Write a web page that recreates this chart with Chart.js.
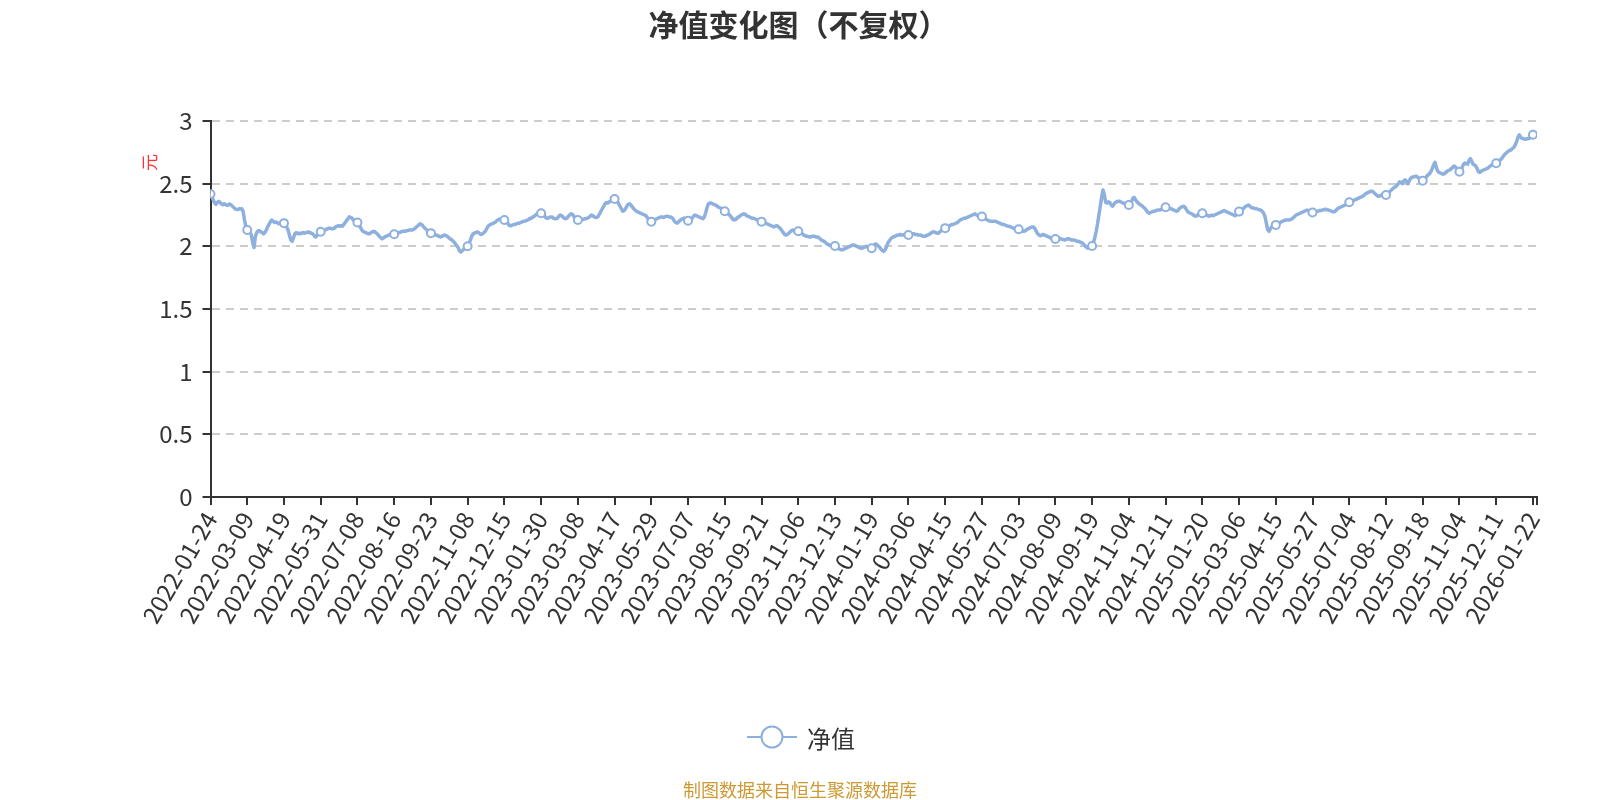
<!DOCTYPE html>
<html>
<head>
<meta charset="utf-8">
<script src="https://cdn.jsdelivr.net/npm/chart.js@4.4.1/dist/chart.umd.min.js"></script>
<style>
  html, body { margin: 0; padding: 0; background: #fff; }
  #wrap { position: relative; width: 1600px; height: 800px; font-family: "Noto Sans CJK SC", "Noto Sans", sans-serif; }
  #chart { position: absolute; left: 0; top: 0; }
  .title { position: absolute; left: 0; width: 1597px; top: 5px; text-align: center; font-size: 30px; font-weight: bold; color: #333; line-height: 36px; }
  .unit { position: absolute; left: 140px; top: 153px; width: 18px; height: 18px; font-size: 17px; line-height: 18px; color: #f33; transform: rotate(-90deg); }
  .legend { position: absolute; left: 746px; top: 721px; height: 32px; display: flex; align-items: center; font-size: 24px; color: #333; }
  .legend svg { margin-right: 9px; }
  .source { position: absolute; left: 0; width: 1600px; top: 778px; text-align: center; font-size: 18px; line-height: 22px; color: #cc9933; }
</style>
</head>
<body>
<div id="wrap">
  <canvas id="chart" width="1600" height="800"></canvas>
  <div class="title">净值变化图（不复权）</div>
  <div class="unit">元</div>
  <div class="legend">
    <svg width="52" height="26"><line x1="1" y1="13" x2="51" y2="13" stroke="#8eb0de" stroke-width="2"/><circle cx="26" cy="13" r="10.5" fill="#fff" stroke="#8eb0de" stroke-width="2"/></svg>
    <span>净值</span>
  </div>
  <div class="source">制图数据来自恒生聚源数据库</div>
</div>
<script>
// x-axis labels, one every labelStep trading days
const labelStep = 27
const tickLabels = [
  "2022-01-24", "2022-03-09", "2022-04-19", "2022-05-31", "2022-07-08", "2022-08-16", "2022-09-23", "2022-11-08", "2022-12-15",
  "2023-01-30", "2023-03-08", "2023-04-17", "2023-05-29", "2023-07-07", "2023-08-15", "2023-09-21", "2023-11-06", "2023-12-13",
  "2024-01-19", "2024-03-06", "2024-04-15", "2024-05-27", "2024-07-03", "2024-08-09", "2024-09-19", "2024-11-04", "2024-12-11",
  "2025-01-20", "2025-03-06", "2025-04-15", "2025-05-27", "2025-07-04", "2025-08-12", "2025-09-18", "2025-11-04", "2025-12-11",
  "2026-01-22"
]
const yTicks = [0, 0.5, 1, 1.5, 2, 2.5, 3]

// daily NAV (元)
const navPart1 = [
  2.418, 2.396, 2.37, 2.348, 2.335, 2.351, 2.359, 2.351, 2.338, 2.332, 2.34, 2.335, 2.327, 2.33, 2.338, 2.332, 2.322, 2.311, 2.30, 2.295, 2.293, 2.30, 2.298, 2.30, 2.277, 2.21, 2.157, 2.13,
  2.125, 2.115, 2.09, 2.03, 1.99, 2.08, 2.11, 2.125, 2.125, 2.115, 2.11, 2.10, 2.11, 2.13, 2.155, 2.175, 2.195, 2.21, 2.20, 2.19, 2.195, 2.19, 2.18, 2.185, 2.19, 2.185, 2.185,
  2.17, 2.155, 2.13, 2.09, 2.05, 2.04, 2.07, 2.10, 2.11, 2.10, 2.105, 2.10, 2.105, 2.11, 2.105, 2.11, 2.11, 2.115, 2.11, 2.105, 2.10, 2.09, 2.075, 2.08, 2.095, 2.11, 2.117,
  2.12, 2.125, 2.13, 2.135, 2.14, 2.145, 2.145, 2.14, 2.14, 2.145, 2.155, 2.16, 2.165, 2.16, 2.165, 2.16, 2.175, 2.19, 2.205, 2.22, 2.235, 2.23, 2.225, 2.21, 2.20, 2.195, 2.19,
  2.175, 2.155, 2.135, 2.12, 2.115, 2.11, 2.105, 2.10, 2.10, 2.11, 2.115, 2.12, 2.115, 2.105, 2.095, 2.08, 2.07, 2.06, 2.065, 2.075, 2.08, 2.085, 2.09, 2.095, 2.09, 2.09, 2.097,
  2.10, 2.105, 2.11, 2.11, 2.115, 2.12, 2.12, 2.12, 2.125, 2.125, 2.13, 2.13, 2.13, 2.135, 2.14, 2.15, 2.16, 2.17, 2.18, 2.175, 2.165, 2.15, 2.14, 2.13, 2.12, 2.11, 2.105,
  2.10, 2.095, 2.09, 2.09, 2.085, 2.08, 2.075, 2.08, 2.085, 2.09, 2.085, 2.08, 2.07, 2.06, 2.055, 2.045, 2.035, 2.02, 2.005, 1.99, 1.965, 1.955, 1.965, 1.975, 1.985, 1.99, 2.0,
  2.02, 2.05, 2.08, 2.10, 2.105, 2.11, 2.115, 2.11, 2.10, 2.095, 2.10, 2.11, 2.12, 2.14, 2.16, 2.17, 2.175, 2.18, 2.185, 2.19, 2.20, 2.21, 2.215, 2.22, 2.22, 2.215, 2.21,
  2.205, 2.19, 2.175, 2.165, 2.165, 2.17, 2.175, 2.175, 2.18, 2.185, 2.185, 2.19, 2.195, 2.20, 2.20, 2.205, 2.21, 2.215, 2.225, 2.225, 2.235, 2.24, 2.25, 2.26, 2.265, 2.27, 2.264
]
const navPart2 = [
  2.255, 2.245, 2.235, 2.225, 2.225, 2.23, 2.235, 2.235, 2.225, 2.22, 2.22, 2.225, 2.24, 2.25, 2.245, 2.235, 2.225, 2.22, 2.225, 2.24, 2.25, 2.26, 2.255, 2.24, 2.225, 2.215, 2.21,
  2.21, 2.21, 2.215, 2.215, 2.22, 2.22, 2.225, 2.23, 2.24, 2.25, 2.245, 2.235, 2.23, 2.23, 2.24, 2.26, 2.28, 2.30, 2.32, 2.34, 2.35, 2.345, 2.355, 2.36, 2.365, 2.37, 2.378,
  2.37, 2.36, 2.34, 2.32, 2.30, 2.28, 2.285, 2.30, 2.32, 2.335, 2.34, 2.33, 2.315, 2.30, 2.29, 2.28, 2.275, 2.27, 2.265, 2.26, 2.255, 2.25, 2.245, 2.23, 2.215, 2.20, 2.197,
  2.20, 2.205, 2.215, 2.22, 2.225, 2.23, 2.235, 2.235, 2.23, 2.235, 2.24, 2.24, 2.235, 2.235, 2.23, 2.22, 2.20, 2.19, 2.185, 2.195, 2.205, 2.215, 2.22, 2.225, 2.215, 2.21, 2.205,
  2.205, 2.21, 2.225, 2.24, 2.25, 2.245, 2.24, 2.235, 2.23, 2.225, 2.22, 2.235, 2.27, 2.31, 2.34, 2.345, 2.345, 2.34, 2.335, 2.33, 2.325, 2.315, 2.31, 2.305, 2.295, 2.285, 2.28,
  2.275, 2.265, 2.255, 2.245, 2.23, 2.215, 2.21, 2.215, 2.225, 2.235, 2.24, 2.25, 2.255, 2.26, 2.255, 2.245, 2.24, 2.235, 2.23, 2.225, 2.225, 2.22, 2.215, 2.21, 2.205, 2.20, 2.197,
  2.195, 2.19, 2.185, 2.18, 2.175, 2.17, 2.165, 2.16, 2.155, 2.16, 2.165, 2.16, 2.15, 2.14, 2.125, 2.11, 2.095, 2.09, 2.095, 2.105, 2.115, 2.125, 2.13, 2.125, 2.115, 2.115, 2.12,
  2.115, 2.11, 2.10, 2.09, 2.085, 2.08, 2.08, 2.075, 2.075, 2.08, 2.08, 2.08, 2.075, 2.075, 2.07, 2.06, 2.05, 2.045, 2.04, 2.03, 2.02, 2.015, 2.01, 2.005, 2.0, 1.995, 2.003,
  1.995, 1.985, 1.98, 1.975, 1.972, 1.975, 1.98, 1.985, 1.99, 1.995, 2.0, 2.005, 2.01, 2.01, 2.005, 2.0, 1.995, 1.99, 1.985, 1.985, 1.99, 1.995, 2.0, 1.995, 1.99, 1.985, 1.985
]
const navPart3 = [
  2.0, 2.01, 2.02, 2.01, 2.0, 1.99, 1.975, 1.965, 1.96, 1.975, 2.0, 2.03, 2.045, 2.06, 2.07, 2.075, 2.08, 2.085, 2.09, 2.09, 2.095, 2.09, 2.09, 2.095, 2.095, 2.09, 2.091,
  2.095, 2.10, 2.10, 2.10, 2.095, 2.095, 2.09, 2.09, 2.09, 2.085, 2.08, 2.08, 2.085, 2.09, 2.095, 2.10, 2.11, 2.115, 2.115, 2.11, 2.105, 2.105, 2.115, 2.125, 2.135, 2.14, 2.145,
  2.145, 2.15, 2.16, 2.17, 2.175, 2.175, 2.18, 2.185, 2.19, 2.20, 2.21, 2.215, 2.22, 2.225, 2.225, 2.23, 2.235, 2.24, 2.245, 2.25, 2.255, 2.26, 2.25, 2.245, 2.24, 2.24, 2.238,
  2.235, 2.225, 2.215, 2.21, 2.205, 2.20, 2.20, 2.20, 2.20, 2.20, 2.195, 2.19, 2.185, 2.18, 2.175, 2.175, 2.17, 2.165, 2.16, 2.16, 2.155, 2.15, 2.145, 2.145, 2.14, 2.14, 2.136,
  2.13, 2.125, 2.12, 2.12, 2.125, 2.135, 2.14, 2.145, 2.15, 2.155, 2.155, 2.14, 2.12, 2.10, 2.09, 2.085, 2.09, 2.095, 2.09, 2.085, 2.08, 2.075, 2.07, 2.065, 2.06, 2.06, 2.059,
  2.06, 2.065, 2.065, 2.06, 2.055, 2.055, 2.05, 2.055, 2.06, 2.06, 2.055, 2.05, 2.05, 2.05, 2.045, 2.04, 2.04, 2.035, 2.03, 2.025, 2.015, 2.0, 1.99, 1.985, 1.99, 1.995, 2.003,
  2.03, 2.07, 2.12, 2.18, 2.25, 2.32, 2.39, 2.45, 2.41, 2.35, 2.345, 2.355, 2.35, 2.33, 2.32, 2.335, 2.35, 2.355, 2.36, 2.36, 2.355, 2.35, 2.345, 2.34, 2.345, 2.34, 2.33,
  2.34, 2.36, 2.385, 2.39, 2.37, 2.355, 2.345, 2.335, 2.33, 2.32, 2.31, 2.30, 2.285, 2.27, 2.265, 2.27, 2.275, 2.28, 2.28, 2.285, 2.29, 2.29, 2.29, 2.295, 2.30, 2.305, 2.312,
  2.31, 2.305, 2.30, 2.30, 2.295, 2.29, 2.285, 2.28, 2.285, 2.30, 2.31, 2.315, 2.32, 2.315, 2.30, 2.28, 2.27, 2.265, 2.26, 2.255, 2.245, 2.24, 2.245, 2.255, 2.26, 2.265, 2.264
]
const navPart4 = [
  2.26, 2.255, 2.25, 2.245, 2.24, 2.245, 2.25, 2.245, 2.25, 2.255, 2.26, 2.265, 2.27, 2.275, 2.28, 2.285, 2.28, 2.275, 2.27, 2.265, 2.26, 2.255, 2.25, 2.245, 2.25, 2.265, 2.277,
  2.285, 2.295, 2.30, 2.31, 2.32, 2.325, 2.33, 2.32, 2.31, 2.305, 2.305, 2.30, 2.30, 2.295, 2.29, 2.29, 2.28, 2.265, 2.24, 2.19, 2.135, 2.12, 2.14, 2.155, 2.16, 2.165, 2.171,
  2.175, 2.18, 2.19, 2.195, 2.20, 2.205, 2.21, 2.21, 2.21, 2.21, 2.215, 2.22, 2.23, 2.24, 2.25, 2.255, 2.26, 2.265, 2.27, 2.275, 2.28, 2.285, 2.29, 2.285, 2.28, 2.275, 2.27,
  2.27, 2.275, 2.28, 2.28, 2.285, 2.285, 2.29, 2.29, 2.295, 2.295, 2.29, 2.29, 2.285, 2.28, 2.275, 2.275, 2.285, 2.295, 2.305, 2.31, 2.315, 2.32, 2.325, 2.33, 2.335, 2.345, 2.352,
  2.355, 2.36, 2.365, 2.37, 2.375, 2.38, 2.385, 2.39, 2.395, 2.40, 2.41, 2.42, 2.425, 2.43, 2.435, 2.44, 2.44, 2.43, 2.42, 2.41, 2.40, 2.40, 2.405, 2.41, 2.41, 2.405, 2.41,
  2.415, 2.425, 2.44, 2.45, 2.46, 2.47, 2.475, 2.485, 2.50, 2.515, 2.51, 2.50, 2.52, 2.53, 2.52, 2.50, 2.52, 2.54, 2.55, 2.555, 2.555, 2.56, 2.555, 2.545, 2.54, 2.53, 2.524,
  2.53, 2.545, 2.56, 2.57, 2.58, 2.595, 2.62, 2.65, 2.67, 2.63, 2.60, 2.59, 2.585, 2.58, 2.575, 2.58, 2.59, 2.60, 2.605, 2.61, 2.62, 2.63, 2.64, 2.635, 2.62, 2.605, 2.596,
  2.61, 2.63, 2.655, 2.665, 2.66, 2.655, 2.685, 2.70, 2.68, 2.655, 2.65, 2.64, 2.62, 2.595, 2.59, 2.60, 2.605, 2.61, 2.615, 2.62, 2.625, 2.635, 2.645, 2.65, 2.66, 2.665, 2.663,
  2.67, 2.68, 2.69, 2.70, 2.715, 2.73, 2.74, 2.75, 2.76, 2.765, 2.77, 2.78, 2.79, 2.81, 2.835, 2.87, 2.89, 2.87, 2.86, 2.86, 2.855, 2.855, 2.86, 2.86, 2.865, 2.875, 2.89, 2.905, 2.905, 2.907
]

const nav = navPart1.concat(navPart2, navPart3, navPart4)
const lastIdx = nav.length - 1
const tickIdx = tickLabels.map((_, i) => i * labelStep).concat([lastIdx])

const lineColor = "#8eb0de"
const axisColor = "#333"
const fontFamily = '"Noto Sans CJK SC", "Noto Sans", sans-serif'

new Chart(document.getElementById("chart"), {
  type: "line",
  data: {
    datasets: [{
      label: "净值",
      data: nav.map((v, i) => ({ x: i, y: v })),
      borderColor: lineColor,
      borderWidth: 3.5,
      borderJoinStyle: "round",
      tension: 0,
      pointRadius: ctx => (ctx.dataIndex % labelStep === 0 && ctx.dataIndex <= 36 * labelStep ? 4 : 0),
      pointBackgroundColor: "#fff",
      pointBorderColor: lineColor,
      pointBorderWidth: 2
    }]
  },
  options: {
    responsive: false,
    animation: false,
    layout: { padding: { left: 0, top: 121, right: 63, bottom: 0 } },
    plugins: { legend: { display: false }, tooltip: { enabled: false } },
    scales: {
      x: {
        type: "linear",
        min: 0,
        max: lastIdx,
        afterBuildTicks: s => { s.ticks = tickIdx.map(v => ({ value: v })) },
        afterFit: s => { s.height = 303 },
        ticks: {
          autoSkip: false,
          minRotation: 60,
          maxRotation: 60,
          padding: 2,
          color: axisColor,
          font: { family: fontFamily, size: 24 },
          callback: v => (v % labelStep === 0 && v / labelStep < tickLabels.length ? tickLabels[v / labelStep] : "")
        },
        grid: { drawOnChartArea: false, drawTicks: true, tickLength: 8, color: axisColor, lineWidth: 2 },
        border: { color: axisColor, width: 2 }
      },
      y: {
        min: 0,
        max: 3,
        afterBuildTicks: s => { s.ticks = yTicks.map(v => ({ value: v })) },
        afterFit: s => { s.width = 210.5 },
        ticks: {
          padding: 10,
          color: axisColor,
          font: { family: fontFamily, size: 24 },
          callback: v => String(v)
        },
        grid: { color: "#cccccc", lineWidth: 2, tickColor: axisColor, tickLength: 8, drawTicks: true },
        border: { color: axisColor, width: 2, dash: [8, 6] }
      }
    }
  }
})
</script>
</body>
</html>
